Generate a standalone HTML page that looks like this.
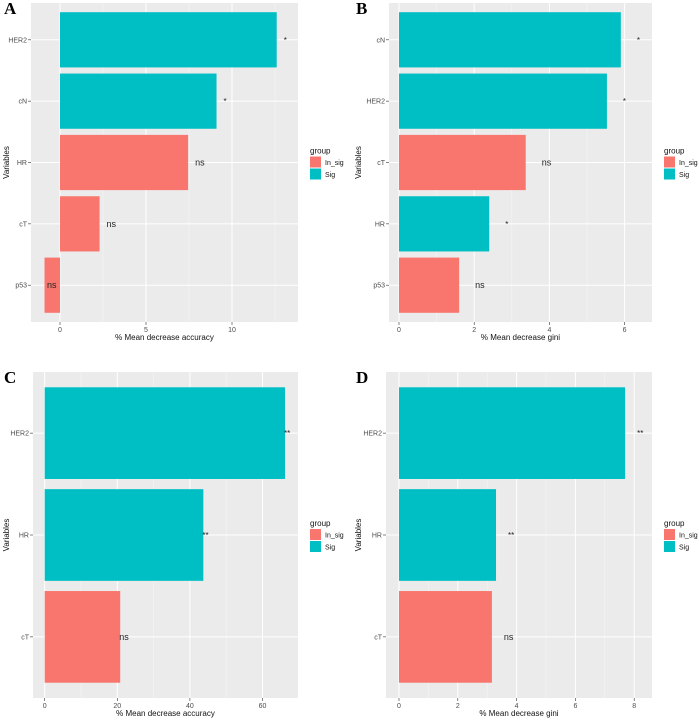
<!DOCTYPE html>
<html><head><meta charset="utf-8"><style>
body{margin:0;background:#fff;}
svg{display:block;font-family:"Liberation Sans",sans-serif;}
</style></head><body>
<svg id="fig" width="699" height="720" viewBox="0 0 699 720"></svg>
<script>
const catsA=["HER2","cN","HR","cT","p53"];
const valsA=[12.6,9.1,7.45,2.3,-0.9];
const grpA=["Sig","Sig","In_sig","In_sig","In_sig"];
const annA=["*","*","ns","ns","ns"];
const ticksA=[0,5,10];

const catsB=["cN","HER2","cT","HR","p53"];
const valsB=[5.9,5.53,3.37,2.4,1.6];
const grpB=["Sig","Sig","In_sig","Sig","In_sig"];
const annB=["*","*","ns","*","ns"];
const ticksB=[0,2,4,6];

const catsC=["HER2","HR","cT"];
const valsC=[66.2,43.7,20.8];
const grpC=["Sig","Sig","In_sig"];
const annC=["**","**","ns"];
const ticksC=[0,20,40,60];

const catsD=["HER2","HR","cT"];
const valsD=[7.69,3.3,3.16];
const grpD=["Sig","Sig","In_sig"];
const annD=["**","**","ns"];
const ticksD=[0,2,4,6,8];

const NS="http://www.w3.org/2000/svg";
const svg=document.getElementById("fig");
const col={Sig:"#00BFC4",In_sig:"#F8766D"};
function mk(tag,attrs,parent,text){const e=document.createElementNS(NS,tag);for(const k in attrs)e.setAttribute(k,attrs[k]);if(text!==undefined)e.textContent=text;(parent||svg).appendChild(e);return e;}

function panel(id,letter,P,cats,vals,grp,ann,ticks,xTitle,annOff){
  const g=mk("g",{});
  
  
  const x0=P.zeroPx, ppu=P.ppu;
  const sx=v=>x0+v*ppu;
  const bg=mk("rect",{x:P.l,y:P.t,width:P.r-P.l,height:P.b-P.t,fill:"#ebebeb"},g);
  
  
  const step=ticks[1]-ticks[0];
  // minor grid
  for(let v=ticks[0]-step/2; sx(v)<P.r; v+=step){ if(sx(v)>P.l) mk("line",{x1:sx(v),x2:sx(v),y1:P.t,y2:P.b,stroke:"#f5f5f5","stroke-width":0.6},g);}
  const n=cats.length, band=(P.b-P.t)/(n+0.2);
  const cy=i=>P.t+band*(0.6+i);
  cats.forEach((c,i)=>mk("line",{x1:P.l,x2:P.r,y1:cy(i),y2:cy(i),stroke:"#fff","stroke-width":1},g));
  ticks.forEach(t=>{
    mk("line",{x1:sx(t),x2:sx(t),y1:P.t,y2:P.b,stroke:"#fff","stroke-width":1},g);
    mk("line",{x1:sx(t),x2:sx(t),y1:P.b,y2:P.b+3,stroke:"#333","stroke-width":0.6},g);
    const tl=mk("text",{x:sx(t),y:P.b+10,"font-size":7,fill:"#4d4d4d","text-anchor":"middle"},g,String(t));
    
    
  });
  cats.forEach((c,i)=>{
    const v=vals[i], bh=band*0.9;
    const r=mk("rect",{x:Math.min(sx(0),sx(v)),y:cy(i)-bh/2,width:Math.abs(sx(v)-sx(0)),height:bh,fill:col[grp[i]]},g);
    
    
    const lbl=mk("text",{x:P.l-4,y:cy(i)+2.5,"font-size":7,fill:"#4d4d4d","text-anchor":"end"},g,c);
    
    
    mk("line",{x1:P.l-3,x2:P.l,y1:cy(i),y2:cy(i),stroke:"#333","stroke-width":0.6},g);
    const ax=v<0?sx(0)-13:sx(v)+annOff;
    const a=mk("text",{x:ax,y:cy(i)+3,"font-size":ann[i]==="ns"?9:8,fill:"#222"},g,ann[i]);
    
    
  });
  const xt=mk("text",{x:(P.l+P.r)/2,y:P.b+18,"font-size":8,fill:"#111","text-anchor":"middle"},g,xTitle);
  
  
  const ymid=(P.t+P.b)/2;
  const yt=mk("text",{x:P.lx,y:ymid,"font-size":8,fill:"#111","text-anchor":"middle",transform:`rotate(-90 ${P.lx} ${ymid})`},g,"Variables");
  
  
  const L=mk("text",{x:P.lx-5,y:P.t+11,"font-size":17,"font-weight":"bold","font-family":"Liberation Serif,serif",fill:"#000"},g,letter);
  
  
  // legend
  const lg=mk("g",{},g);
  
  
  mk("text",{x:P.lgx,y:ymid-9,"font-size":8,fill:"#111"},lg,"group");
  [["In_sig","In_sig"],["Sig","Sig"]].forEach(([k,t],j)=>{
    const e=mk("g",{},lg);
    
    
    mk("rect",{x:P.lgx,y:ymid-6+j*12,width:11,height:11,fill:col[k]},e);
    mk("text",{x:P.lgx+15,y:ymid+2.5+j*12,"font-size":7,fill:"#111"},e,t);
  });
}
panel("a","A",{l:31,r:298,t:3,b:322,zeroPx:60,ppu:17.2,lx:9,lgx:310},catsA,valsA,grpA,annA,ticksA,"% Mean decrease accuracy",7);
panel("b","B",{l:389,r:652,t:3,b:322,zeroPx:399,ppu:37.6,lx:361,lgx:664},catsB,valsB,grpB,annB,ticksB,"% Mean decrease gini",16);
panel("c","C",{l:33,r:298,t:372,b:698,zeroPx:44.7,ppu:3.63,lx:9,lgx:310},catsC,valsC,grpC,annC,ticksC,"% Mean decrease accuracy",-1);
panel("d","D",{l:386,r:652,t:372,b:698,zeroPx:399,ppu:29.4,lx:361,lgx:664},catsD,valsD,grpD,annD,ticksD,"% Mean decrease gini",12);
</script>
</body></html>
